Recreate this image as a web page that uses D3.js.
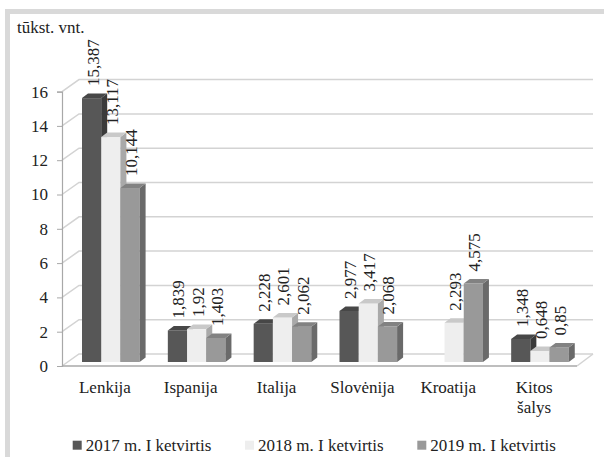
<!DOCTYPE html>
<html><head><meta charset="utf-8">
<script src="https://cdn.jsdelivr.net/npm/d3@7"></script>
<style>
html,body{margin:0;padding:0;background:#fff;}
svg text{font-family:"Liberation Serif","Times New Roman","DejaVu Serif",serif !important;}
</style></head>
<body>
<svg id="chart" width="604" height="457"></svg>
<script>
const categories = ["Lenkija","Ispanija","Italija","Slovėnija","Kroatija","Kitos šalys"];
const seriesNames = ["2017 m. I ketvirtis","2018 m. I ketvirtis","2019 m. I ketvirtis"];
const values2017 = [15.387, 1.839, 2.228, 2.977, null, 1.348];
const values2018 = [13.117, 1.92, 2.601, 3.417, 2.293, 0.648];
const values2019 = [10.144, 1.403, 2.062, 2.068, 4.575, 0.85];
const labels2017 = ["15,387","1,839","2,228","2,977","","1,348"];
const labels2018 = ["13,117","1,92","2,601","3,417","2,293","0,648"];
const labels2019 = ["10,144","1,403","2,062","2,068","4,575","0,85"];
const yTicks = [0,2,4,6,8,10,12,14,16];
const unitLabel = "tūkst. vnt.";

const seriesValues = [values2017, values2018, values2019];
const seriesLabels = [labels2017, labels2018, labels2019];
const colors = [
  {front:"#575757", side:"#3b3b3b", top:"#474747"},
  {front:"#eeeeee", side:"#a9a9a9", top:"#c9c9c9"},
  {front:"#999999", side:"#6a6a6a", top:"#828282"}
];
const FF = "Liberation Serif, Times New Roman, serif";

const svg = d3.select("#chart");
const FONT = 17;

// frame
svg.append("rect").attr("x",7.5).attr("y",11.5).attr("width",700).attr("height",600)
  .attr("fill","none").attr("stroke","#d9d9d9").attr("stroke-width",5);

const x0 = 62, x1 = 577;
const y = d3.scaleLinear().domain([0,16]).range([366, 91.6]);
const xBand = d3.scaleBand().domain(categories).range([x0, x1]).paddingInner(0).paddingOuter(0);
const xInner = d3.scaleBand().domain(seriesNames).range([20, 20 + 57.6]).paddingInner(0);

const wallDx = 17, wallDy = -12;
const barShiftY = -4;
const bDx = 6, bDy = -4.5;

// walls / gridlines
const g = svg.append("g");
yTicks.forEach(v => {
  const yy = y(v);
  g.append("polyline")
    .attr("points", `${x0},${yy} ${x0+wallDx},${yy+wallDy} ${x1+16},${yy+wallDy}`)
    .attr("fill","none").attr("stroke","#d3d3d3").attr("stroke-width",1.5);
});
g.append("line").attr("x1",x1).attr("y1",y(0)).attr("x2",x1+16).attr("y2",y(0)+wallDy)
  .attr("stroke","#d3d3d3").attr("stroke-width",1.5);

// y axis
const yAxis = d3.axisLeft(y).tickValues(yTicks).tickSize(5).tickPadding(9).tickFormat(d3.format("d"));
const ya = svg.append("g").attr("transform",`translate(${x0},0)`).call(yAxis)
  .attr("font-family",FF).attr("font-size",FONT);
ya.select(".domain").attr("stroke","#a8a8a8").attr("stroke-width",1.2);
ya.selectAll(".tick line").attr("stroke","#a8a8a8");
ya.selectAll(".tick text").attr("font-size",FONT).attr("fill","#222").attr("font-family",FF);

// front floor line
svg.append("line").attr("x1",x0).attr("y1",y(0)).attr("x2",x1).attr("y2",y(0))
  .attr("stroke","#a8a8a8").attr("stroke-width",1.5);

// bars
const bars = svg.append("g");
categories.forEach((c, ci) => {
  seriesNames.forEach((s, si) => {
    const v = seriesValues[si][ci];
    if (v === null || v === undefined) return;
    const w = xInner.bandwidth();
    const bx = xBand(c) + xInner(s);
    const yb = y(0) + barShiftY;
    const yt = y(v) + barShiftY;
    const col = colors[si];
    bars.append("rect").attr("x",bx).attr("y",yt).attr("width",w).attr("height",yb-yt).attr("fill",col.front);
    bars.append("polygon").attr("points",`${bx+w},${yt} ${bx+w+bDx},${yt+bDy} ${bx+w+bDx},${yb+bDy} ${bx+w},${yb}`).attr("fill",col.side);
    bars.append("polygon").attr("points",`${bx},${yt} ${bx+w},${yt} ${bx+w+bDx},${yt+bDy} ${bx+bDx},${yt+bDy}`).attr("fill",col.top);
  });
});

// data labels
const lab = svg.append("g");
categories.forEach((c, ci) => {
  seriesNames.forEach((s, si) => {
    const v = seriesValues[si][ci];
    if (v === null || v === undefined) return;
    const w = xInner.bandwidth();
    const cx = xBand(c) + xInner(s) + w/2 + 1;
    const ty = y(v) + barShiftY - 12;
    lab.append("text").attr("transform",`translate(${cx},${ty}) rotate(-90)`)
      .attr("dy","0.35em").attr("text-anchor","start").attr("font-family",FF)
      .attr("font-size",FONT).attr("fill","#222").text(seriesLabels[si][ci]);
  });
});

// category labels
const catG = svg.append("g");
categories.forEach(c => {
  const cx = xBand(c) + xBand.bandwidth()/2;
  const parts = c === "Kitos šalys" ? ["Kitos","šalys"] : [c];
  parts.forEach((p, i) => {
    catG.append("text").attr("x",cx).attr("y",393 + i*20).attr("text-anchor","middle")
      .attr("font-family",FF).attr("font-size",FONT).attr("fill","#222").text(p);
  });
});

// unit label
svg.append("text").attr("x",17).attr("y",33).attr("font-family",FF).attr("font-size",FONT).attr("fill","#222").text(unitLabel);

// legend
const legendX = [72.7, 245, 417.3];
seriesNames.forEach((s, i) => {
  svg.append("rect").attr("x",legendX[i]).attr("y",440.7).attr("width",9).attr("height",9).attr("fill",colors[i].front);
  svg.append("text").attr("x",legendX[i]+13).attr("y",450.5).attr("font-family",FF).attr("font-size",FONT).attr("fill","#222").text(s);
});
</script>
</body></html>
